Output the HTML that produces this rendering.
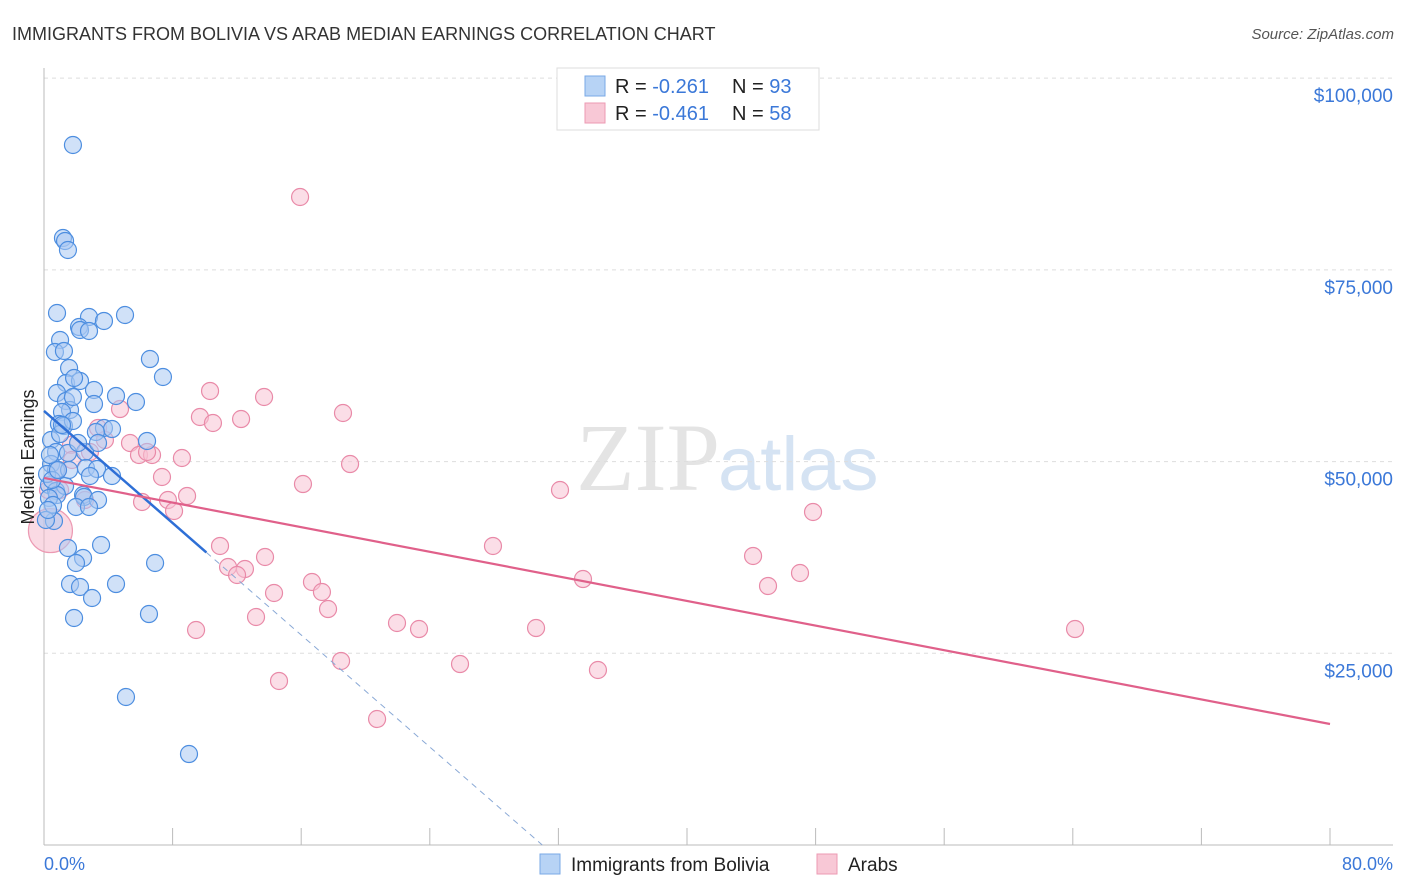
<!DOCTYPE html>
<html><head><meta charset="utf-8"><style>
body{margin:0;background:#fff;font-family:"Liberation Sans",sans-serif}
svg{display:block}
</style></head><body>
<svg id="chart" width="1406" height="892" xmlns="http://www.w3.org/2000/svg">
<text x="12" y="40" font-size="18" fill="#333">IMMIGRANTS FROM BOLIVIA VS ARAB MEDIAN EARNINGS CORRELATION CHART</text>
<text x="1394" y="39" font-size="15" fill="#555" font-style="italic" text-anchor="end">Source: ZipAtlas.com</text>
<text x="720" y="490" font-size="96" fill="#e4e4e4" font-family="Liberation Serif,serif" text-anchor="end">ZIP</text>
<text x="718" y="490" font-size="76" fill="#d5e3f3">atlas</text>
<g id="grid"></g>
<g id="pts"></g>
<g id="lines"></g>
<text transform="translate(34,457) rotate(-90)" font-size="18" fill="#222" text-anchor="middle">Median Earnings</text>
<text x="44" y="870" font-size="18" fill="#3b78d8">0.0%</text>
<text x="1393" y="870" font-size="18" fill="#3b78d8" text-anchor="end">80.0%</text>
<g>
<rect x="557" y="68" width="262" height="62" fill="#fff" stroke="#ddd"/>
<rect x="585" y="76" width="20" height="20" fill="#b7d3f5" stroke="#7aa8e6"/>
<rect x="585" y="103" width="20" height="20" fill="#f8c8d6" stroke="#ec9ab3"/>
<text x="615" y="93" font-size="20" fill="#222">R = <tspan fill="#3b78d8">-0.261</tspan><tspan x="732">N = </tspan><tspan fill="#3b78d8">93</tspan></text>
<text x="615" y="120" font-size="20" fill="#222">R = <tspan fill="#3b78d8">-0.461</tspan><tspan x="732">N = </tspan><tspan fill="#3b78d8">58</tspan></text>
</g>
<g><rect x="540" y="854" width="20" height="20" fill="#b7d3f5" stroke="#7aa8e6"/><text x="571" y="871" font-size="19" fill="#222">Immigrants from Bolivia</text></g>
<g><rect x="817" y="854" width="20" height="20" fill="#f8c8d6" stroke="#ec9ab3"/><text x="848" y="871" font-size="19" fill="#222">Arabs</text></g>
</svg>
<script>
const yTicks=[25000,50000,75000,100000];
const yTickLabels=["$25,000","$50,000","$75,000","$100,000"];
const xTicks=[0,8,16,24,32,40,48,56,64,72,80];
const bluePx=[[73,145],[63,238],[65,241],[68,250],[57,313],[89,317],[125,315],[104,321],[79,327],[80,330],[89,331],[60,340],[55,352],[64,351],[150,359],[163,377],[69,368],[66,383],[80,381],[74,378],[57,393],[94,390],[116,396],[66,401],[136,402],[94,404],[70,410],[62,412],[59,424],[64,426],[73,421],[104,428],[112,429],[96,432],[147,441],[51,440],[56,452],[68,453],[85,452],[98,443],[51,464],[56,470],[86,468],[97,469],[90,476],[112,476],[49,485],[56,491],[65,486],[83,495],[84,497],[98,500],[57,495],[49,498],[76,507],[89,507],[54,521],[68,548],[83,558],[101,545],[76,563],[70,584],[80,587],[116,584],[92,598],[155,563],[149,614],[74,618],[126,697],[189,754],[47,474],[52,480],[53,505],[46,520],[60,434],[73,397],[78,443],[69,470],[58,470],[50,455],[62,425],[48,510]];
const pinkPx=[[300,197],[210,391],[264,397],[343,413],[120,409],[200,417],[213,423],[241,419],[98,428],[130,443],[139,455],[152,455],[147,452],[182,458],[350,464],[71,445],[90,452],[58,470],[162,477],[187,496],[303,484],[560,490],[168,500],[174,511],[142,502],[813,512],[493,546],[220,546],[265,557],[753,556],[228,567],[245,569],[237,575],[312,582],[583,579],[800,573],[768,586],[274,593],[322,592],[328,609],[256,617],[196,630],[397,623],[419,629],[536,628],[1075,629],[341,661],[460,664],[598,670],[279,681],[377,719],[60,490],[48,490],[72,460],[105,440],[85,500]];
// data values (percent, dollars) derived from the readings
const blueX=bluePx.map(p=>+((p[0]-44)/16.075).toFixed(2));
const blueY=bluePx.map(p=>Math.round((845-p[1])*130.4));
const pinkX=pinkPx.map(p=>+((p[0]-44)/16.075).toFixed(2));
const pinkY=pinkPx.map(p=>Math.round((845-p[1])*130.4));
const bigPinkX=[0.4], bigPinkY=[41000];
const blueTrend=[56600,-1826], pinkTrend=[47860,-401];
const X=v=>44+v*16.075, Y=v=>845-v/130.4;
const NS="http://www.w3.org/2000/svg";
function mk(tag,attrs,parent){const e=document.createElementNS(NS,tag);for(const k in attrs)e.setAttribute(k,attrs[k]);parent.appendChild(e);return e;}
const g=document.getElementById('grid');
yTicks.forEach((t,i)=>{
 const l=mk('line',{x1:44,x2:1393,y1:Y(t),y2:Y(t),stroke:'#ddd','stroke-dasharray':'4,4'},g);
 
 
 const tx=mk('text',{x:1393,y:Y(t)+24,'font-size':19,fill:'#3b78d8','text-anchor':'end'},g);
 tx.textContent=yTickLabels[i];
 
 
});
const ax=mk('line',{x1:44,x2:44,y1:68,y2:845,stroke:'#bbb'},g);


const bx=mk('line',{x1:44,x2:1393,y1:845,y2:845,stroke:'#bbb'},g);


xTicks.forEach(t=>{const l=mk('line',{x1:X(t),x2:X(t),y1:828,y2:845,stroke:'#bbb'},g);
 
 });
const pg=document.getElementById('pts');
function dots(xs,ys,fill,stroke,r,name){xs.forEach((x,i)=>{const c=mk('circle',{cx:X(x),cy:Y(ys[i]),r:r,fill:fill,'fill-opacity':0.55,stroke:stroke,'stroke-width':1.2},pg);
 
 });}
dots(bigPinkX,bigPinkY,'#f6bccd','#ec9ab3',22,'arab-point-large');
dots(pinkX,pinkY,'#f8c3d3','#e98aa8',8.5,'arab-point');
dots(blueX,blueY,'#a9c9f2','#4d8ee0',8.5,'bolivia-point');
const lg=document.getElementById('lines');
const f=(c,x)=>c[0]+c[1]*x;
const bl=mk('line',{x1:X(0),y1:Y(f(blueTrend,0)),x2:X(10.1),y2:Y(f(blueTrend,10.1)),stroke:'#2e6fd6','stroke-width':2.5},lg);


const xz=-blueTrend[0]/blueTrend[1];
const bd=mk('line',{x1:X(10.1),y1:Y(f(blueTrend,10.1)),x2:X(xz),y2:Y(0),stroke:'#8aa9d6','stroke-width':1,'stroke-dasharray':'6,5'},lg);


const pl=mk('line',{x1:X(0),y1:Y(f(pinkTrend,0)),x2:X(80),y2:Y(f(pinkTrend,80)),stroke:'#e0608a','stroke-width':2.2},lg);


</script>
</body></html>
